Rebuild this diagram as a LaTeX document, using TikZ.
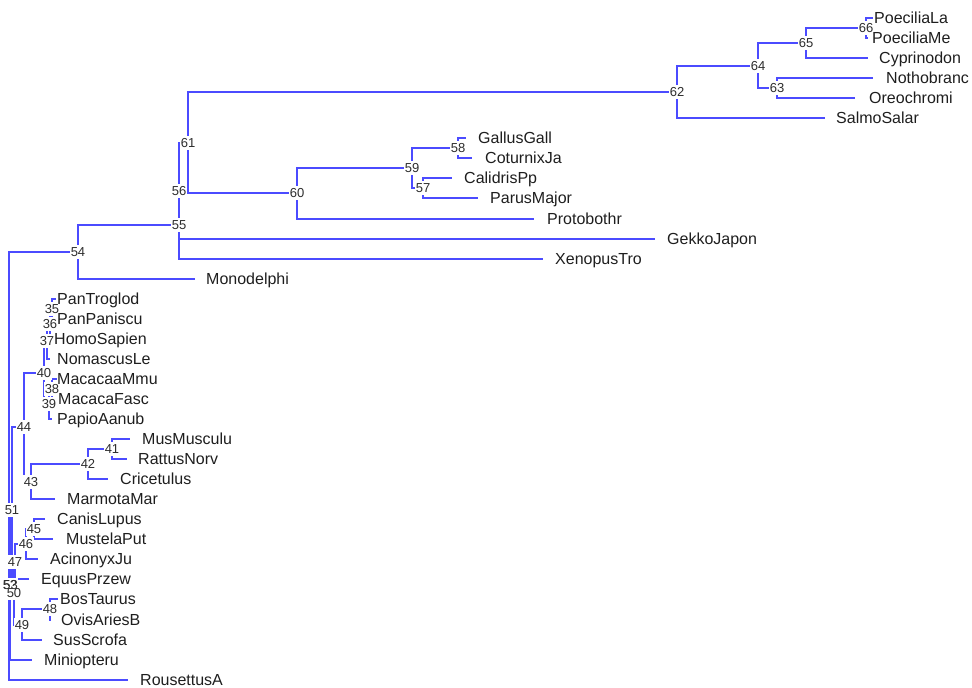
\documentclass[tikz,border=0pt]{standalone}
\usepackage{fontspec}
\setmainfont{Liberation Sans}
\definecolor{branch}{RGB}{75,75,255}
\definecolor{labtext}{RGB}{30,30,30}
\definecolor{nodetext}{RGB}{45,45,45}
\begin{document}
\begin{tikzpicture}[x=1pt,y=-1pt,
  edge/.style={draw=branch,line width=1.5pt},
  tiplab/.style={anchor=west,inner sep=0pt,text height=11.5pt,text depth=0pt,
    font=\fontsize{16}{19}\selectfont,text=labtext},
  nodelab/.style={fill=white,inner xsep=1pt,inner ysep=2pt,text height=9.2pt,text depth=0pt,
    font=\fontsize{13}{15}\selectfont,text=nodetext}]
\useasboundingbox (0,0) rectangle (972,688);
% internal nodes
\coordinate (root) at (9,466);
\coordinate (n54) at (78,252);
\coordinate (n55) at (179,225);
\coordinate (n56) at (179,191);
\coordinate (n61) at (188,143);
\coordinate (n62) at (677,92);
\coordinate (n64) at (758,66);
\coordinate (n65) at (806,43);
\coordinate (n66) at (866,28);
\coordinate (n63) at (777,88);
\coordinate (n60) at (297,193);
\coordinate (n59) at (412,168);
\coordinate (n58) at (458,148);
\coordinate (n57) at (423,188);
\coordinate (n52) at (10,585);
\coordinate (n51) at (12,510);
\coordinate (n44) at (24,427);
\coordinate (n40) at (44,373);
\coordinate (n37) at (47,341);
\coordinate (n36) at (50,324);
\coordinate (n35) at (52,309);
\coordinate (n39) at (49,404);
\coordinate (n38) at (52,389);
\coordinate (n43) at (31,482);
\coordinate (n42) at (88,464);
\coordinate (n41) at (112,449);
\coordinate (n50) at (14,593);
\coordinate (n47) at (15,562);
\coordinate (n46) at (26,544);
\coordinate (n45) at (34,529);
\coordinate (n49) at (22,625);
\coordinate (n48) at (50,609);
% tip ends
\coordinate (ePoeciliaLa) at (873,18);
\coordinate (ePoeciliaMe) at (868,38);
\coordinate (eCyprinodon) at (868,58);
\coordinate (eNothobranc) at (873,78);
\coordinate (eOreochromi) at (855,98);
\coordinate (eSalmoSalar) at (825,118);
\coordinate (eGallusGall) at (466,138);
\coordinate (eCoturnixJa) at (472,158);
\coordinate (eCalidrisPp) at (452,178);
\coordinate (eParusMajor) at (478,198);
\coordinate (eProtobothr) at (534,219);
\coordinate (eGekkoJapon) at (655,239);
\coordinate (eXenopusTro) at (543,259);
\coordinate (eMonodelphi) at (195,279);
\coordinate (ePanTroglod) at (56,299);
\coordinate (ePanPaniscu) at (56,319);
\coordinate (eHomoSapien) at (53,339);
\coordinate (eNomascusLe) at (50,359);
\coordinate (eMacacaaMmu) at (57,379);
\coordinate (eMacacaFasc) at (57,399);
\coordinate (ePapioAanub) at (52,419);
\coordinate (eMusMusculu) at (130,439);
\coordinate (eRattusNorv) at (127,459);
\coordinate (eCricetulus) at (108,479);
\coordinate (eMarmotaMar) at (55,499);
\coordinate (eCanisLupus) at (45,519);
\coordinate (eMustelaPut) at (53,539);
\coordinate (eAcinonyxJu) at (38,559);
\coordinate (eEquusPrzew) at (29,579);
\coordinate (eBosTaurus) at (58,599);
\coordinate (eOvisAriesB) at (51,620);
\coordinate (eSusScrofa) at (42,640);
\coordinate (eMiniopteru) at (32,660);
\coordinate (eRousettusA) at (128,680);
% branches
\foreach \p/\c in {root/n54,root/n52,root/eRousettusA,
  n54/n55,n54/eMonodelphi,n55/n56,n55/eXenopusTro,n56/n61,n56/eGekkoJapon,
  n61/n62,n61/n60,n62/n64,n62/eSalmoSalar,n64/n65,n64/n63,n65/n66,n65/eCyprinodon,
  n66/ePoeciliaLa,n66/ePoeciliaMe,n63/eNothobranc,n63/eOreochromi,
  n60/n59,n60/eProtobothr,n59/n58,n59/n57,n58/eGallusGall,n58/eCoturnixJa,
  n57/eCalidrisPp,n57/eParusMajor,
  n52/n51,n52/eMiniopteru,n51/n44,n51/n50,n44/n40,n44/n43,
  n40/n37,n40/n39,n37/n36,n37/eNomascusLe,n36/n35,n36/eHomoSapien,
  n35/ePanTroglod,n35/ePanPaniscu,n39/n38,n39/ePapioAanub,n38/eMacacaaMmu,n38/eMacacaFasc,
  n43/n42,n43/eMarmotaMar,n42/n41,n42/eCricetulus,n41/eMusMusculu,n41/eRattusNorv,
  n50/n47,n50/n49,n47/n46,n47/eEquusPrzew,n46/n45,n46/eAcinonyxJu,
  n45/eCanisLupus,n45/eMustelaPut,n49/n48,n49/eSusScrofa,n48/eBosTaurus,n48/eOvisAriesB}
  {\draw[edge] (\p) |- (\c);}
% node labels
\foreach \n in {54,55,56,61,62,64,65,66,63,60,59,58,57,52,51,44,40,37,36,35,39,38,43,42,41,50,47,46,45,49,48}
  {\node[nodelab] (l\n) at (n\n) {\n};}
\node[nodelab,fill=none] (l53) at ([xshift=0.6pt]n52) {53};
% tip labels
\node[tiplab] (tPoeciliaLa) at (874,18) {PoeciliaLa};
\node[tiplab] (tPoeciliaMe) at (872,38) {PoeciliaMe};
\node[tiplab] (tCyprinodon) at (879,58) {Cyprinodon};
\node[tiplab] (tNothobranc) at (886,78) {Nothobranc};
\node[tiplab] (tOreochromi) at (869,98) {Oreochromi};
\node[tiplab] (tSalmoSalar) at (836,118) {SalmoSalar};
\node[tiplab] (tGallusGall) at (478,138) {GallusGall};
\node[tiplab] (tCoturnixJa) at (485,158) {CoturnixJa};
\node[tiplab] (tCalidrisPp) at (464,178) {CalidrisPp};
\node[tiplab] (tParusMajor) at (490,198) {ParusMajor};
\node[tiplab] (tProtobothr) at (547,219) {Protobothr};
\node[tiplab] (tGekkoJapon) at (667,239) {GekkoJapon};
\node[tiplab] (tXenopusTro) at (555,259) {XenopusTro};
\node[tiplab] (tMonodelphi) at (206,279) {Monodelphi};
\node[tiplab] (tPanTroglod) at (57,299) {PanTroglod};
\node[tiplab] (tPanPaniscu) at (57,319) {PanPaniscu};
\node[tiplab] (tHomoSapien) at (54,339) {HomoSapien};
\node[tiplab] (tNomascusLe) at (57,359) {NomascusLe};
\node[tiplab] (tMacacaaMmu) at (57,379) {MacacaaMmu};
\node[tiplab] (tMacacaFasc) at (58,399) {MacacaFasc};
\node[tiplab] (tPapioAanub) at (57,419) {PapioAanub};
\node[tiplab] (tMusMusculu) at (142,439) {MusMusculu};
\node[tiplab] (tRattusNorv) at (138,459) {RattusNorv};
\node[tiplab] (tCricetulus) at (120,479) {Cricetulus};
\node[tiplab] (tMarmotaMar) at (67,499) {MarmotaMar};
\node[tiplab] (tCanisLupus) at (57,519) {CanisLupus};
\node[tiplab] (tMustelaPut) at (66,539) {MustelaPut};
\node[tiplab] (tAcinonyxJu) at (50,559) {AcinonyxJu};
\node[tiplab] (tEquusPrzew) at (41,579) {EquusPrzew};
\node[tiplab] (tBosTaurus) at (60,599) {BosTaurus};
\node[tiplab] (tOvisAriesB) at (61,620) {OvisAriesB};
\node[tiplab] (tSusScrofa) at (53,640) {SusScrofa};
\node[tiplab] (tMiniopteru) at (44,660) {Miniopteru};
\node[tiplab] (tRousettusA) at (140,680) {RousettusA};
\end{tikzpicture}
\end{document}
